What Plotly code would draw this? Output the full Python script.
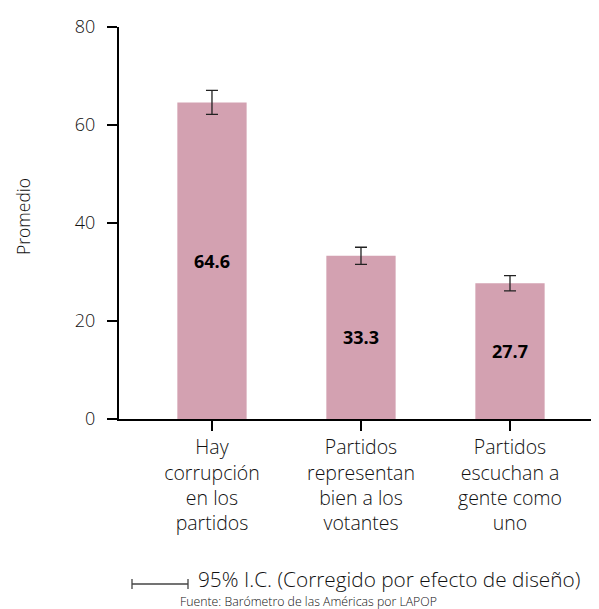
import plotly.graph_objects as go

categories = ["Hay<br>corrupción<br>en los<br>partidos",
              "Partidos<br>representan<br>bien a los<br>votantes",
              "Partidos<br>escuchan a<br>gente como<br>uno"]
values = [64.6, 33.3, 27.7]
ci_err = [2.45, 1.75, 1.55]
value_labels = ["64.6", "33.3", "27.7"]
y_ticks = [0, 20, 40, 60, 80]

FONT = "Open Sans"
TXT = "#111111"
W, H = 599, 609
OFF = 8  # page body margin
L, R, T, B = 111, 0, 19, 198
PW, PH = W - L - R, H - T - B

def px(x):  # window pixel x -> paper x
    return (x - OFF - L) / PW

def py(y):  # window pixel y -> paper y
    return (H - B - (y - OFF)) / PH

fig = go.Figure()
fig.add_trace(go.Bar(
    x=[0, 1, 2], y=values,
    width=0.465,
    marker=dict(color="rgb(211,161,177)", line=dict(width=0)),
    text=value_labels, textposition="inside", insidetextanchor="middle",
    textfont=dict(family=FONT, size=18, color="black", weight="bold"),
    error_y=dict(type="data", array=ci_err, visible=True,
                 color="#222222", thickness=1.3, width=6),
    showlegend=False, hoverinfo="skip",
))

fig.update_layout(
    width=W, height=H,
    margin=dict(l=L, r=R, t=T, b=B, autoexpand=False),
    plot_bgcolor="white", paper_bgcolor="white",
    font=dict(family=FONT, size=18, color=TXT, weight=300),
    xaxis=dict(range=[-0.624, 2.651], tickmode="array", tickvals=[0, 1, 2],
               ticktext=categories, showline=True, linecolor="black", linewidth=2,
               ticks="outside", ticklen=10, tickwidth=2, tickcolor="black",
               showgrid=False, zeroline=False, tickangle=0,
               tickfont=dict(family=FONT, size=19.5, color=TXT, weight=300)),
    yaxis=dict(range=[0, 80], tickvals=y_ticks, showline=True, linecolor="black",
               linewidth=2, ticks="outside", ticklen=10, tickwidth=2,
               tickcolor="black", showgrid=False, zeroline=False,
               ticklabelstandoff=8,
               tickfont=dict(family=FONT, size=18, color=TXT, weight=300)),
)

fig.add_annotation(text="Promedio", x=px(23), y=py(217), xref="paper", yref="paper",
                   xanchor="center", yanchor="middle", textangle=-90, showarrow=False,
                   font=dict(family=FONT, size=17.5, color=TXT, weight=300))
fig.add_annotation(text="95% I.C. (Corregido por efecto de diseño)",
                   x=px(196), y=py(579), xref="paper", yref="paper",
                   xanchor="left", yanchor="middle", showarrow=False,
                   font=dict(family=FONT, size=20.8, color=TXT, weight=300))
fig.add_annotation(text="Fuente: Barómetro de las Américas por LAPOP",
                   x=px(178), y=py(601.5), xref="paper", yref="paper",
                   xanchor="left", yanchor="middle", showarrow=False,
                   font=dict(family=FONT, size=12.3, color=TXT, weight=300))
lc = "#444444"
fig.add_shape(type="line", xref="paper", yref="paper", x0=px(132), x1=px(188),
              y0=py(584), y1=py(584), line=dict(color=lc, width=1.3))
fig.add_shape(type="line", xref="paper", yref="paper", x0=px(132), x1=px(132),
              y0=py(579), y1=py(589), line=dict(color=lc, width=1.3))
fig.add_shape(type="line", xref="paper", yref="paper", x0=px(188), x1=px(188),
              y0=py(579), y1=py(589), line=dict(color=lc, width=1.3))

fig.write_html("out.html")
